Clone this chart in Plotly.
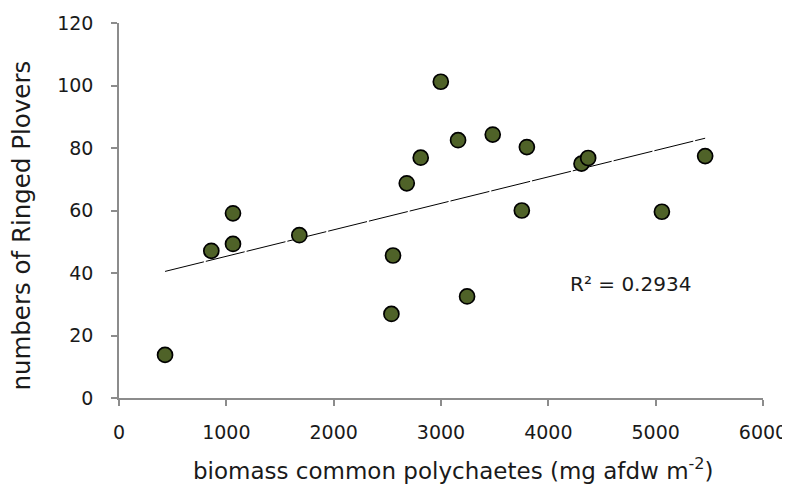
import plotly.graph_objects as go
import numpy as np

# biomass common polychaetes (mg afdw m-2) vs numbers of Ringed Plovers
biomass = [429, 860, 1062, 1062, 1680, 2553, 2538, 3243, 2998, 2811,
           2681, 3159, 3482, 3800, 4309, 4371, 3753, 5058, 5461]
plovers = [13.8, 47.1, 59.1, 49.3, 52.1, 45.6, 26.9, 32.5, 101.2, 76.9,
           68.7, 82.5, 84.3, 80.3, 75.0, 76.8, 60.0, 59.6, 77.4]

x_ticks = [0, 1000, 2000, 3000, 4000, 5000, 6000]
y_ticks = [0, 20, 40, 60, 80, 100, 120]

r2_label = "R² = 0.2934"

# linear trendline (least squares) over the data range
slope, icpt = np.polyfit(biomass, plovers, 1)
tx = np.array([min(biomass), max(biomass)])
ty = slope * tx + icpt

fig = go.Figure()
fig.add_trace(go.Scatter(x=tx, y=ty, mode="lines",
                         line=dict(color="black", width=1, dash="40px,2px"),
                         showlegend=False, hoverinfo="skip"))
fig.add_trace(go.Scatter(x=biomass, y=plovers, mode="markers",
                         marker=dict(size=15, color="#4f6228",
                                     line=dict(color="black", width=1.7)),
                         showlegend=False))

axis_common = dict(showgrid=False, zeroline=False, showline=True, automargin=False,
                   linecolor="#8c8c8c", linewidth=1.5,
                   ticks="outside", ticklen=6, tickcolor="#8c8c8c", tickwidth=1.5,
                   tickfont=dict(family="DejaVu Sans", size=19, color="#1a1a1a"))

fig.update_xaxes(range=[0, 6000], tickvals=x_ticks, ticklabelstandoff=10, **axis_common)
fig.update_yaxes(range=[0, 120], tickvals=y_ticks, ticklabelstandoff=14, **axis_common)

fig.add_annotation(text=r2_label, xref="x", yref="y", x=4770, y=36.5,
                   showarrow=False,
                   font=dict(family="DejaVu Sans", size=20, color="#1a1a1a"))
fig.add_annotation(text="biomass common polychaetes (mg afdw m<sup>-2</sup>)",
                   xref="paper", yref="paper", x=0.52, y=-0.19,
                   yanchor="middle", showarrow=False,
                   font=dict(family="DejaVu Sans", size=23, color="#1a1a1a"))
fig.add_annotation(text="numbers of Ringed Plovers", textangle=-90,
                   xref="paper", yref="paper", x=-0.152, y=0.46,
                   xanchor="center", yanchor="middle", showarrow=False,
                   font=dict(family="DejaVu Sans", size=24.5, color="#1a1a1a"))

# page body adds an 8px offset, so the figure is sized to fit the window
fig.update_layout(width=782, height=479,
                  margin=dict(l=111, r=27, t=15, b=89),
                  plot_bgcolor="white", paper_bgcolor="white")

fig.write_html("out.html")
